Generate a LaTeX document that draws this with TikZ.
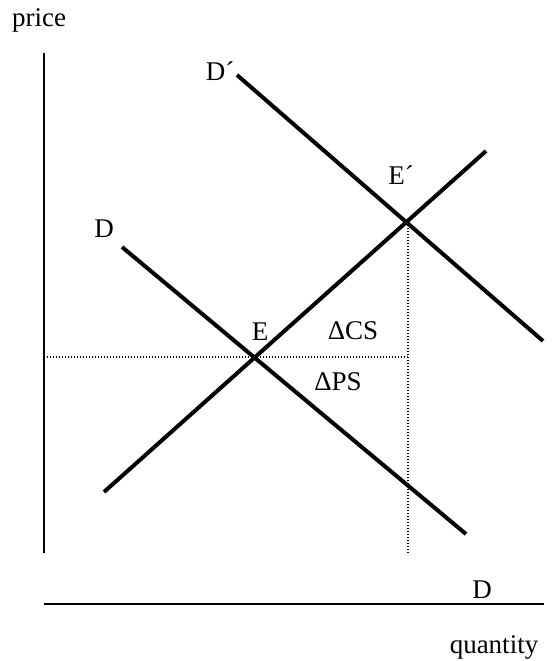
\documentclass[tikz,border=0pt]{standalone}
\usepackage{fontspec}
\setmainfont{Liberation Serif}
\usepackage{tikz}

\begin{document}
\begin{tikzpicture}[x=1pt, y=-1pt, font=\fontsize{27}{31}\selectfont,
	curve/.style={line width=4pt},
	axis/.style={line width=1.8pt},
	guide/.style={line width=1.3pt, dash pattern=on 1.3pt off 1.7pt},
	lbl/.style={anchor=base, inner sep=0pt}]
	\useasboundingbox (0, 0) rectangle (553, 661);
	% axes
	\coordinate (ytop) at (44, 53);
	\coordinate (ybot) at (44, 553);
	\coordinate (xl) at (44, 604);
	\coordinate (xr) at (544, 604);
	\draw [axis] (ytop) -- (ybot);
	\draw [axis] (xl) -- (xr);
	\node (price) at (39, 27) [lbl] {price};
	\node (qty) at (494, 653) [lbl] {quantity};
	\node (dq) at (482, 598) [lbl] {D};
	% supply and the two demand curves
	\coordinate (s0) at (104, 492);
	\coordinate (s1) at (486, 151);
	\coordinate (d0) at (122, 247);
	\coordinate (d1) at (466, 534);
	\coordinate (dd0) at (237, 75);
	\coordinate (dd1) at (543, 341);
	\draw [curve] (s0) -- (s1);
	\draw [curve] (d0) -- (d1);
	\draw [curve] (dd0) -- (dd1);
	\node (dlab) at (104, 237) [lbl] {D};
	\node (ddlab) at (220, 81) [lbl] {D´};
	% equilibria
	\coordinate (E) at (255, 357);
	\coordinate (E2) at (408, 222);
	\coordinate (ep) at (44, 357);
	\coordinate (ec) at (408, 357);
	\coordinate (eb) at (408, 553);
	\draw [guide] (ep) -- (ec);
	\draw [guide] (E2) -- (eb);
	\node (elab) at (260, 340) [lbl] {E};
	\node (e2lab) at (401, 184) [lbl] {E´};
	\node (dcs) at (353, 339) [lbl] {ΔCS};
	\node (dps) at (338, 390) [lbl] {ΔPS};
\end{tikzpicture}
\end{document}
